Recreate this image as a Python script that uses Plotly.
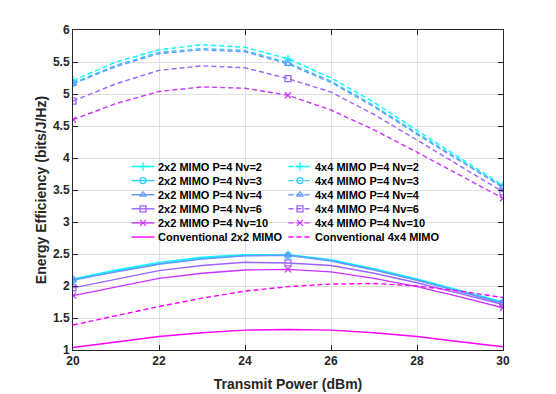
import plotly.graph_objects as go

# ---------------- data ----------------
power_dbm = [20, 21, 22, 23, 24, 25, 26, 27, 28, 29, 30]
marker_idx = [0, 5, 10]

ee_2x2 = {
    "Nv=2":  [2.11, 2.25, 2.37, 2.45, 2.49, 2.49, 2.41, 2.27, 2.11, 1.93, 1.75],
    "Nv=3":  [2.09, 2.23, 2.35, 2.43, 2.48, 2.48, 2.40, 2.26, 2.10, 1.92, 1.74],
    "Nv=4":  [2.10, 2.22, 2.34, 2.42, 2.47, 2.48, 2.39, 2.25, 2.09, 1.91, 1.73],
    "Nv=6":  [1.97, 2.11, 2.24, 2.32, 2.37, 2.36, 2.32, 2.20, 2.05, 1.88, 1.71],
    "Nv=10": [1.85, 1.99, 2.12, 2.20, 2.25, 2.26, 2.22, 2.12, 1.99, 1.83, 1.66],
}
ee_4x4 = {
    "Nv=2":  [5.21, 5.50, 5.69, 5.77, 5.73, 5.55, 5.25, 4.87, 4.43, 4.00, 3.57],
    "Nv=3":  [5.17, 5.45, 5.65, 5.71, 5.68, 5.49, 5.20, 4.82, 4.39, 3.97, 3.55],
    "Nv=4":  [5.16, 5.43, 5.63, 5.69, 5.66, 5.47, 5.18, 4.80, 4.37, 3.95, 3.54],
    "Nv=6":  [4.89, 5.16, 5.37, 5.44, 5.41, 5.24, 5.03, 4.68, 4.28, 3.88, 3.47],
    "Nv=10": [4.60, 4.85, 5.04, 5.11, 5.09, 4.98, 4.75, 4.44, 4.09, 3.73, 3.37],
}
conv_2x2 = [1.04, 1.13, 1.21, 1.27, 1.31, 1.32, 1.31, 1.27, 1.21, 1.13, 1.05]
conv_4x4 = [1.39, 1.54, 1.68, 1.81, 1.92, 1.99, 2.03, 2.04, 2.00, 1.92, 1.82]

x_ticks = [20, 22, 24, 26, 28, 30]
y_ticks = [1, 1.5, 2, 2.5, 3, 3.5, 4, 4.5, 5, 5.5, 6]
y_tick_labels = ["1", "1.5", "2", "2.5", "3", "3.5", "4", "4.5", "5", "5.5", "6"]

# ---------------- style ----------------
colors = ["rgb(0,255,255)", "rgb(51,204,255)", "rgb(102,153,255)",
          "rgb(153,102,255)", "rgb(204,51,255)", "rgb(255,0,255)"]
symbols = ["cross-thin-open", "circle-open", "triangle-up-open",
           "square-open", "x-thin-open"]
DASH = "5px,3px"
LW = 1.4
MS = 6
FONT = "Liberation Sans, Arial, sans-serif"
TXT = "#262626"

fig = go.Figure()

keys = list(ee_2x2.keys())

def add_series(y, color, dash, symbol):
    fig.add_trace(go.Scatter(x=power_dbm, y=y, mode="lines",
                             line=dict(color=color, width=LW, dash=dash),
                             showlegend=False, hoverinfo="skip"))
    if symbol is not None:
        fig.add_trace(go.Scatter(x=[power_dbm[i] for i in marker_idx],
                                 y=[y[i] for i in marker_idx], mode="markers",
                                 marker=dict(symbol=symbol, size=MS, color=color,
                                             line=dict(color=color, width=1.3)),
                                 showlegend=False, hoverinfo="skip"))

for k, c, s in zip(keys, colors, symbols):
    add_series(ee_2x2[k], c, "solid", s)
add_series(conv_2x2, colors[5], "solid", None)
for k, c, s in zip(keys, colors, symbols):
    add_series(ee_4x4[k], c, DASH, s)
add_series(conv_4x4, colors[5], DASH, None)

# ---------------- custom legend (overlay axes in pixel units of the plot area) ----------------
# page body has an 8px margin, so the figure is offset accordingly
W, H = 548, 386
L, R, T, B = 65, 53, 22, 44
PW, PH = W - L - R, H - T - B

legend_labels_2x2 = ["2x2 MIMO P=4 " + k for k in keys] + ["Conventional 2x2 MIMO"]
legend_labels_4x4 = ["4x4 MIMO P=4 " + k for k in keys] + ["Conventional 4x4 MIMO"]
legend_symbols = symbols + [None]

row0 = 183.5      # px above bottom of plot area
row_gap = 14.1
col_x = [58.5, 215.5]
sample_len = 23

annotations = []
for ci, (labels, dash) in enumerate([(legend_labels_2x2, "solid"), (legend_labels_4x4, DASH)]):
    x0 = col_x[ci]
    for ri, (lab, sym) in enumerate(zip(labels, legend_symbols)):
        yy = row0 - ri * row_gap
        col = colors[ri]
        fig.add_trace(go.Scatter(x=[x0, x0 + sample_len], y=[yy, yy], mode="lines",
                                 line=dict(color=col, width=LW, dash=dash),
                                 xaxis="x2", yaxis="y2", showlegend=False, hoverinfo="skip"))
        if sym is not None:
            fig.add_trace(go.Scatter(x=[x0 + sample_len / 2], y=[yy], mode="markers",
                                     marker=dict(symbol=sym, size=MS, color=col,
                                                 line=dict(color=col, width=1.3)),
                                     xaxis="x2", yaxis="y2", showlegend=False, hoverinfo="skip"))
        annotations.append(dict(x=x0 + sample_len + 1, y=yy, xref="x2", yref="y2",
                                text=lab, showarrow=False, xanchor="left", yanchor="middle",
                                font=dict(family=FONT, size=11, color="#000000", weight="bold")))

axis_common = dict(showline=True, linecolor=TXT, linewidth=1, mirror="ticks",
                   ticks="inside", ticklen=5, tickcolor=TXT, showgrid=True,
                   gridcolor="#e0e0e0", gridwidth=1, zeroline=False,
                   tickfont=dict(family=FONT, size=12, color=TXT, weight="bold"))

fig.update_layout(
    width=W, height=H,
    margin=dict(l=L, r=R, t=T, b=B, autoexpand=False),
    paper_bgcolor="white", plot_bgcolor="white",
    showlegend=False,
    xaxis=dict(range=[20, 30], tickvals=x_ticks, ticktext=[str(v) for v in x_ticks],
               title=dict(text="Transmit Power (dBm)", standoff=11,
                          font=dict(family=FONT, size=14, color=TXT, weight="bold")),
               **axis_common),
    yaxis=dict(range=[1, 6], tickvals=y_ticks, ticktext=y_tick_labels,
               title=dict(text="Energy Efficiency (bits/J/Hz)", standoff=3,
                          font=dict(family=FONT, size=14, color=TXT, weight="bold")),
               **axis_common),
    xaxis2=dict(range=[0, PW], overlaying="x", anchor="y2", visible=False, fixedrange=True),
    yaxis2=dict(range=[0, PH], overlaying="y", anchor="x2", visible=False, fixedrange=True),
    annotations=annotations,
)

fig.write_html("out.html")
